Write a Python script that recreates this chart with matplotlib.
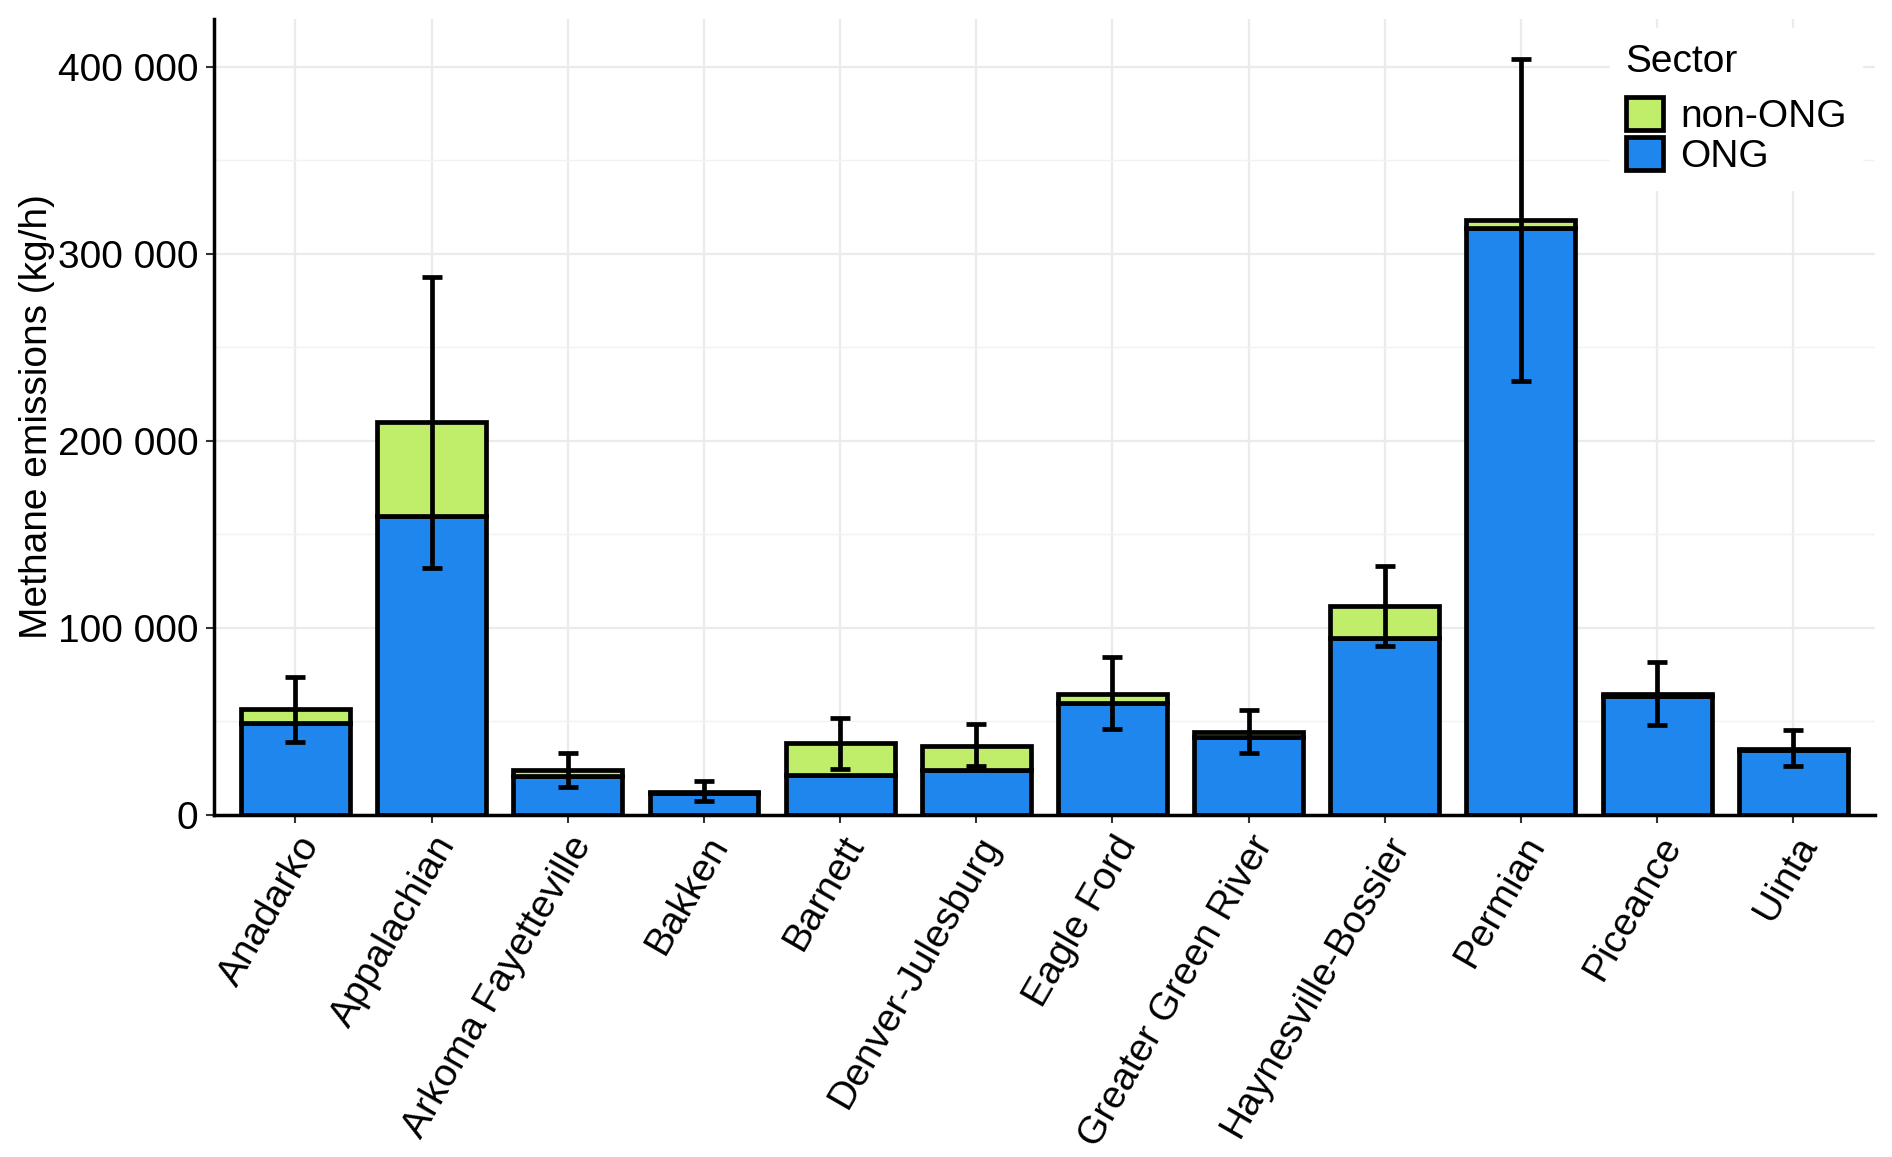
import matplotlib
matplotlib.use("Agg")
import matplotlib.pyplot as plt
import numpy as np
from matplotlib.patches import Patch
from matplotlib.ticker import MultipleLocator, FuncFormatter

plt.rcParams["font.family"] = ["Liberation Sans", "DejaVu Sans"]

basins = ["Anadarko", "Appalachian", "Arkoma Fayetteville", "Bakken", "Barnett",
          "Denver-Julesburg", "Eagle Ford", "Greater Green River",
          "Haynesville-Bossier", "Permian", "Piceance", "Uinta"]
ong = [49200, 159900, 20700, 11700, 21400, 24000, 59500, 41400, 94500, 313900, 63400, 34300]
total = [56300, 209700, 24000, 12300, 38200, 36900, 64700, 44000, 111300, 317800, 64700, 35000]
err_low = [38800, 132000, 14900, 7100, 24600, 25900, 46000, 33000, 90000, 231700, 47900, 25900]
err_high = [73800, 287400, 33000, 18100, 51800, 48500, 84100, 55700, 132700, 403900, 81600, 45300]

BLUE = "#1E86EC"
GREEN = "#C0EE6A"
FS = 28

x = np.arange(len(basins))
ong = np.array(ong)
non_ong = np.array(total) - ong

fig = plt.figure(figsize=(18.92, 11.57), dpi=100)
ax = fig.add_axes([0.113, 0.296, 0.878, 0.688])

ax.bar(x, ong, width=0.8, color=BLUE, edgecolor="black", linewidth=3.4, zorder=3)
ax.bar(x, non_ong, bottom=ong, width=0.8, color=GREEN, edgecolor="black",
       linewidth=3.4, zorder=3)
yerr = [np.array(total) - np.array(err_low), np.array(err_high) - np.array(total)]
ax.errorbar(x, total, yerr=yerr, fmt="none", ecolor="black", elinewidth=3.4,
            capsize=7, capthick=3.4, zorder=4)

ax.set_xlim(-0.6, 11.6)
ax.set_ylim(0, 425700)
ax.yaxis.set_major_locator(MultipleLocator(100000))
ax.yaxis.set_minor_locator(MultipleLocator(50000))
ax.yaxis.set_major_formatter(FuncFormatter(lambda v, p: f"{int(v):,}".replace(",", " ")))
ax.grid(which="major", color="#EBEBEB", linewidth=1.6, zorder=0)
ax.grid(which="minor", axis="y", color="#F2F2F2", linewidth=1.0, zorder=0)
ax.set_axisbelow(True)

ax.set_xticks(x)
ax.set_xticklabels(basins, rotation=60, ha="right", rotation_mode="anchor", fontsize=FS)
ax.tick_params(axis="both", which="major", length=6, width=1.5, color="#333333",
               labelsize=FS, labelcolor="black", pad=5)
ax.tick_params(axis="y", which="minor", length=0)
ax.set_ylabel("Methane emissions (kg/h)", fontsize=FS, labelpad=2)

for s in ["top", "right"]:
    ax.spines[s].set_visible(False)
for s in ["left", "bottom"]:
    ax.spines[s].set_linewidth(2.5)
    ax.spines[s].set_color("black")

handles = [Patch(facecolor=GREEN, edgecolor="black", linewidth=3.4, label="non-ONG"),
           Patch(facecolor=BLUE, edgecolor="black", linewidth=3.4, label="ONG")]
leg = ax.legend(handles=handles, title="Sector", loc="upper right",
                bbox_to_anchor=(1.004, 1.012), fontsize=FS, title_fontsize=FS,
                frameon=True, fancybox=False, edgecolor="white", framealpha=1,
                handlelength=0.95, handleheight=0.95, handletextpad=0.45,
                labelspacing=0.05, borderpad=0.4)
leg._legend_box.align = "left"
leg._legend_box.sep = 12

fig.savefig("out.png", dpi=100)
